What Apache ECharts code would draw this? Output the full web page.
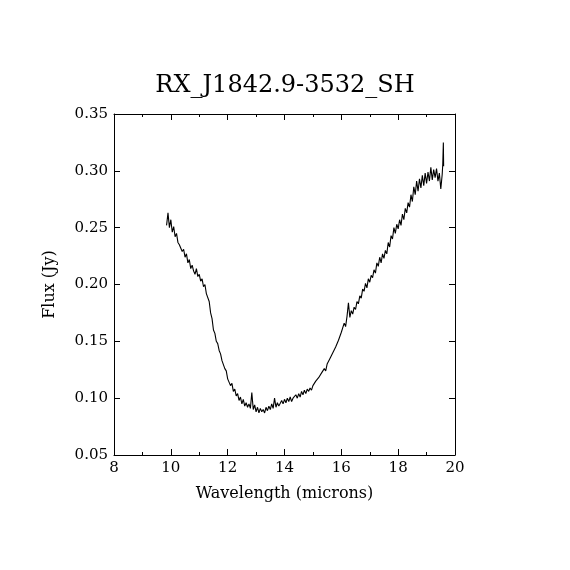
<!DOCTYPE html>
<html>
<head>
<meta charset="utf-8">
<script src="https://cdn.jsdelivr.net/npm/echarts@6/dist/echarts.min.js"></script>
<style>
  html, body { margin: 0; padding: 0; background: #fff; }
  #chart { width: 570px; height: 570px; }
</style>
</head>
<body>
<div id="chart"></div>
<script>
const chartTitle = "RX_J1842.9-3532_SH";
const xName = "Wavelength (microns)";
const yName = "Flux (Jy)";

// wavelength grid (microns)
const wavelength = [
  9.85, 9.90, 9.95, 10.00, 10.05, 10.10, 10.15, 10.20, 10.25, 10.30,
  10.35, 10.40, 10.45, 10.50, 10.55, 10.60, 10.65, 10.70, 10.75, 10.80,
  10.85, 10.90, 10.95, 11.00, 11.05, 11.10, 11.15, 11.20, 11.25, 11.30,
  11.35, 11.40, 11.45, 11.50, 11.55, 11.60, 11.65, 11.70, 11.75, 11.80,
  11.85, 11.90, 11.95, 12.00, 12.05, 12.10, 12.15, 12.20, 12.25, 12.30,
  12.35, 12.40, 12.45, 12.50, 12.55, 12.60, 12.65, 12.70, 12.75, 12.80,
  12.85, 12.90, 12.95, 13.00, 13.05, 13.10, 13.15, 13.20, 13.25, 13.30,
  13.35, 13.40, 13.45, 13.50, 13.55, 13.60, 13.65, 13.70, 13.75, 13.80,
  13.85, 13.90, 13.95, 14.00, 14.05, 14.10, 14.15, 14.20, 14.25, 14.30,
  14.35, 14.40, 14.45, 14.50, 14.55, 14.60, 14.65, 14.70, 14.75, 14.80,
  14.85, 14.90, 14.95, 15.00, 15.05, 15.10, 15.15, 15.20, 15.25, 15.30,
  15.35, 15.40, 15.45, 15.50, 15.55, 15.60, 15.65, 15.70, 15.75, 15.80,
  15.85, 15.90, 15.95, 16.00, 16.05, 16.10, 16.15, 16.20, 16.25, 16.30,
  16.35, 16.40, 16.45, 16.50, 16.55, 16.60, 16.65, 16.70, 16.75, 16.80,
  16.85, 16.90, 16.95, 17.00, 17.05, 17.10, 17.15, 17.20, 17.25, 17.30,
  17.35, 17.40, 17.45, 17.50, 17.55, 17.60, 17.65, 17.70, 17.75, 17.80,
  17.85, 17.90, 17.95, 18.00, 18.05, 18.10, 18.15, 18.20, 18.25, 18.30,
  18.35, 18.40, 18.45, 18.50, 18.55, 18.60, 18.65, 18.70, 18.75, 18.80,
  18.85, 18.90, 18.95, 19.00, 19.05, 19.10, 19.15, 19.20, 19.25, 19.30,
  19.35, 19.40, 19.45, 19.50, 19.55, 19.57, 19.59, 19.60
];

// flux (Jy) at each wavelength
const flux = [
  0.252, 0.263, 0.250, 0.257, 0.246, 0.251, 0.242, 0.245, 0.237, 0.235,
  0.234, 0.229, 0.231, 0.224, 0.227, 0.219, 0.222, 0.214, 0.217, 0.212,
  0.209, 0.214, 0.207, 0.209, 0.203, 0.205, 0.198, 0.200, 0.192, 0.191,
  0.185, 0.175, 0.170, 0.160, 0.157, 0.150, 0.148, 0.142, 0.139, 0.133,
  0.132, 0.126, 0.124, 0.117, 0.118, 0.111, 0.113, 0.106, 0.108, 0.102,
  0.104, 0.098, 0.101, 0.095, 0.099, 0.093, 0.096, 0.092, 0.095, 0.091,
  0.105, 0.090, 0.094, 0.088, 0.092, 0.087, 0.091, 0.088, 0.090, 0.087,
  0.092, 0.089, 0.093, 0.090, 0.095, 0.091, 0.100, 0.092, 0.096, 0.093,
  0.094, 0.098, 0.095, 0.099, 0.096, 0.100, 0.097, 0.101, 0.097, 0.100,
  0.099, 0.103, 0.100, 0.104, 0.101, 0.106, 0.103, 0.107, 0.104, 0.108,
  0.106, 0.109, 0.107, 0.111, 0.110, 0.115, 0.114, 0.118, 0.117, 0.122,
  0.121, 0.126, 0.124, 0.130, 0.129, 0.135, 0.134, 0.140, 0.139, 0.145,
  0.146, 0.151, 0.152, 0.158, 0.159, 0.166, 0.163, 0.172, 0.184, 0.171,
  0.177, 0.174, 0.180, 0.178, 0.185, 0.183, 0.190, 0.188, 0.196, 0.194,
  0.201, 0.197, 0.205, 0.202, 0.208, 0.206, 0.213, 0.210, 0.219, 0.216,
  0.224, 0.219, 0.227, 0.223, 0.230, 0.227, 0.237, 0.233, 0.243, 0.240,
  0.250, 0.245, 0.253, 0.249, 0.257, 0.252, 0.262, 0.257, 0.267, 0.263,
  0.272, 0.268, 0.279, 0.273, 0.286, 0.279, 0.291, 0.282, 0.293, 0.285,
  0.296, 0.287, 0.298, 0.289, 0.299, 0.291, 0.303, 0.292, 0.301, 0.294,
  0.302, 0.291, 0.298, 0.284, 0.297, 0.306, 0.325, 0.304
];

const xTicks = [8, 10, 12, 14, 16, 18, 20];
const yTicks = [0.05, 0.10, 0.15, 0.20, 0.25, 0.30, 0.35];

const FONT = "DejaVu Serif";
const INK = "#000";

function frameAxis(extra) {
  return Object.assign({
    axisLine: { show: true, onZero: false, lineStyle: { color: INK, width: 1 } },
    axisTick: { show: true, inside: true, length: 6, lineStyle: { color: INK, width: 1 } },
    splitLine: { show: false },
    nameTextStyle: { color: INK, fontFamily: FONT, fontSize: 16 },
    axisLabel: { color: INK, fontFamily: FONT, fontSize: 15 }
  }, extra);
}

const chart = echarts.init(document.getElementById("chart"), null, { renderer: "canvas" });

chart.setOption({
  animation: false,
  backgroundColor: "#fff",
  title: {
    text: chartTitle,
    left: "center",
    top: 69,
    textStyle: { color: INK, fontFamily: FONT, fontSize: 24, fontWeight: "normal" }
  },
  grid: { left: 114, right: 115, top: 114, bottom: 115 },
  xAxis: [
    frameAxis({
      type: "value",
      position: "bottom",
      min: xTicks[0],
      max: xTicks[xTicks.length - 1],
      interval: 2,
      name: xName,
      nameLocation: "middle",
      nameGap: 31,
      minorTick: { show: true, splitNumber: 2, length: 3, lineStyle: { color: INK } },
      axisLabel: { color: INK, fontFamily: FONT, fontSize: 15, margin: 6 }
    }),
    frameAxis({
      type: "value",
      position: "top",
      min: xTicks[0],
      max: xTicks[xTicks.length - 1],
      interval: 2,
      minorTick: { show: true, splitNumber: 2, length: 3, lineStyle: { color: INK } },
      axisLabel: { show: false }
    })
  ],
  yAxis: [
    frameAxis({
      type: "value",
      position: "left",
      min: yTicks[0],
      max: yTicks[yTicks.length - 1],
      interval: 0.05,
      name: yName,
      nameLocation: "middle",
      nameGap: 56,
      axisLabel: {
        color: INK, fontFamily: FONT, fontSize: 15, margin: 6,
        formatter: (v) => v.toFixed(2)
      }
    }),
    frameAxis({
      type: "value",
      position: "right",
      min: yTicks[0],
      max: yTicks[yTicks.length - 1],
      interval: 0.05,
      axisLabel: { show: false }
    })
  ],
  series: [
    {
      type: "line",
      xAxisIndex: 0,
      yAxisIndex: 0,
      showSymbol: false,
      symbol: "none",
      lineStyle: { color: INK, width: 1.1 },
      data: wavelength.map((w, i) => [w, flux[i]])
    }
  ]
});
</script>
</body>
</html>
